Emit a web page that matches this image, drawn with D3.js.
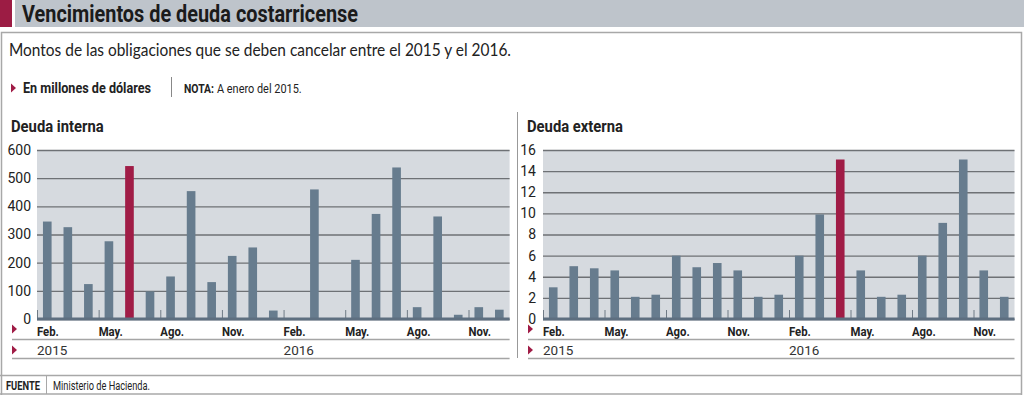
<!DOCTYPE html>
<html>
<head>
<meta charset="utf-8">
<style>
body { margin: 0; background: #fff; }
text { font-family: Roboto, sans-serif; fill: #222; }
.title { font-weight: bold; font-size: 23px; fill: #1b1b1b; }
.sub { font-family: Lato, "Open Sans", sans-serif; font-size: 17px; fill: #222; }
.bold { font-weight: bold; }
.ytick text { font-size: 14px; fill: #222; }
.ytick path { display: none; }
.ytick line { stroke: #6e7175; stroke-width: 1.3px; }
</style>
<title></title></head>
<body>
<script src="https://cdnjs.cloudflare.com/ajax/libs/d3/7.8.5/d3.min.js"></script>
<script>

// months from Feb 2015 to Dec 2016
var months = ["2015-02","2015-03","2015-04","2015-05","2015-06","2015-07","2015-08","2015-09","2015-10","2015-11","2015-12",
              "2016-01","2016-02","2016-03","2016-04","2016-05","2016-06","2016-07","2016-08","2016-09","2016-10","2016-11","2016-12"];

var monthTicks = ["2015-02","2015-05","2015-08","2015-11","2016-02","2016-05","2016-08","2016-11"];
var monthTickLabels = ["Feb.","May.","Ago.","Nov.","Feb.","May.","Ago.","Nov."];
var yearTicks = ["2015-02","2016-02"];
var yearLabels = ["2015","2016"];

// millones de dolares
var interna = [346, 326, 124, 276, 543, 98, 151, 454, 131, 224, 254,
               30, 0, 460, 0, 210, 373, 538, 42, 364, 15, 42, 33];
var externa = [3.0, 5.0, 4.8, 4.6, 2.1, 2.3, 6.0, 4.9, 5.3, 4.6, 2.1,
               2.3, 6.0, 9.9, 15.1, 4.6, 2.1, 2.3, 6.0, 9.1, 15.1, 4.6, 2.1];

var internaTicks = [0, 100, 200, 300, 400, 500, 600];
var externaTicks = [0, 2, 4, 6, 8, 10, 12, 14, 16];

var internaHighlight = "2015-06";
var externaHighlight = "2016-04";

var width = 1024,
    height = 395;

var barColor = "#677c8e",
    redColor = "#a01c46",
    lineGray = "#a8a8a8";

var svg = d3.select("body").append("svg")
    .attr("width", width)
    .attr("height", height);

// squeeze text horizontally, the original uses a condensed face
function condense(sel, f) {
  sel.each(function() {
    var len = this.getComputedTextLength();
    d3.select(this).attr("textLength", len * f).attr("lengthAdjust", "spacingAndGlyphs");
  });
  return sel;
}

// header
svg.append("rect").attr("x", 0).attr("y", 0).attr("width", 12).attr("height", 27).attr("fill", "#9c1c44");
svg.append("rect").attr("x", 15).attr("y", 0).attr("width", width - 15).attr("height", 27).attr("fill", "#bec4cb");
svg.append("text").attr("class", "title")
    .attr("x", 22).attr("y", 22)
    .attr("textLength", 336).attr("lengthAdjust", "spacingAndGlyphs")
    .text("Vencimientos de deuda costarricense");

// frame
svg.append("path")
    .attr("d", "M1.5,395V32.5H1021.5V395")
    .attr("fill", "none").attr("stroke", lineGray).attr("stroke-width", 1.5);

svg.append("text").attr("class", "sub")
    .attr("x", 9).attr("y", 56)
    .attr("textLength", 502).attr("lengthAdjust", "spacingAndGlyphs")
    .text("Montos de las obligaciones que se deben cancelar entre el 2015 y el 2016.");

function triangle(g, x, y) {
  g.append("path")
    .attr("d", "M" + x + "," + (y - 4.5) + "L" + (x + 5) + "," + y + "L" + x + "," + (y + 4.5) + "Z")
    .attr("fill", redColor);
}

triangle(svg, 11, 88);
svg.append("text").attr("class", "bold")
    .attr("x", 23).attr("y", 93).style("font-size", "14px")
    .attr("textLength", 128).attr("lengthAdjust", "spacingAndGlyphs")
    .text("En millones de dólares");
svg.append("line").attr("x1", 171.5).attr("x2", 171.5).attr("y1", 77).attr("y2", 97)
    .attr("stroke", "#888").attr("stroke-width", 1);
svg.append("text").attr("class", "bold")
    .attr("transform", "translate(184,93) scale(0.8,1)")
    .style("font-size", "13px")
    .text("NOTA:");
svg.append("text")
    .attr("transform", "translate(217,93) scale(0.84,1)")
    .style("font-size", "13px")
    .text("A enero del 2015.");

// separator between charts
svg.append("line").attr("x1", 517.5).attr("x2", 517.5).attr("y1", 112).attr("y2", 358)
    .attr("stroke", "#999").attr("stroke-width", 1);

// footer
svg.append("line").attr("x1", 0).attr("x2", 1022).attr("y1", 375.5).attr("y2", 375.5)
    .attr("stroke", lineGray).attr("stroke-width", 1.5);
svg.append("line").attr("x1", 0).attr("x2", 1022).attr("y1", 394).attr("y2", 394)
    .attr("stroke", lineGray).attr("stroke-width", 1.5);
svg.append("line").attr("x1", 46.5).attr("x2", 46.5).attr("y1", 376).attr("y2", 394)
    .attr("stroke", lineGray).attr("stroke-width", 1);
svg.append("text").attr("class", "bold").attr("x", 6).attr("y", 389.5).style("font-size", "12px")
    .attr("textLength", 34).attr("lengthAdjust", "spacingAndGlyphs")
    .text("FUENTE");
svg.append("text").attr("x", 53).attr("y", 389.5).style("font-size", "12px")
    .attr("textLength", 97).attr("lengthAdjust", "spacingAndGlyphs")
    .text("Ministerio de Hacienda.");

function drawChart(opts) {
  var g = svg.append("g");

  var slot = d3.scaleBand().domain(months).range([opts.x0, opts.x1]);
  var barW = slot.bandwidth() * 0.42;
  var y = d3.scaleLinear().domain([0, d3.max(opts.ticks)]).range([319, 150]);

  g.append("text").attr("class", "bold")
      .attr("x", opts.titleX).attr("y", 132).style("font-size", "17px")
      .text(opts.title)
      .call(condense, 0.87);

  g.append("rect")
      .attr("x", opts.x0).attr("y", y.range()[1])
      .attr("width", opts.x1 - opts.x0).attr("height", y.range()[0] - y.range()[1])
      .attr("fill", "#d6dadf");

  var yAxis = d3.axisLeft(y)
      .tickValues(opts.ticks)
      .tickSize(-(opts.x1 - opts.x0))
      .tickPadding(opts.pad);

  g.append("g")
      .attr("class", "ytick")
      .attr("transform", "translate(" + opts.x0 + ",0)")
      .call(yAxis);

  // quarter ticks
  g.selectAll(".qtick")
      .data(monthTicks)
      .enter().append("line")
      .attr("x1", function(d) { return slot(d) + 0.5; })
      .attr("x2", function(d) { return slot(d) + 0.5; })
      .attr("y1", y(0) - 9).attr("y2", y(0))
      .attr("stroke", "#6f7a85").attr("stroke-width", 1);

  g.selectAll(".bar")
      .data(opts.values)
      .enter().append("rect")
      .attr("x", function(d, i) { return slot(months[i]) + (slot.bandwidth() - barW) / 2; })
      .attr("y", function(d) { return y(d); })
      .attr("width", barW)
      .attr("height", function(d) { return y(0) - y(d); })
      .attr("fill", function(d, i) { return months[i] == opts.highlight ? redColor : barColor; });

  // base line
  g.append("line")
      .attr("x1", opts.x0).attr("x2", opts.x1)
      .attr("y1", y(0)).attr("y2", y(0))
      .attr("stroke", "#5e6f80").attr("stroke-width", 3);

  // month labels
  g.selectAll(".mlabel")
      .data(monthTicks)
      .enter().append("text")
      .attr("class", "bold")
      .attr("x", function(d) { return slot(d); })
      .attr("y", 336)
      .style("font-size", "13.5px")
      .text(function(d, i) { return monthTickLabels[i]; })
      .call(condense, 0.84);

  g.selectAll(".ylabel")
      .data(yearTicks)
      .enter().append("text")
      .attr("x", function(d) { return slot(d); })
      .attr("y", 355)
      .style("font-size", "13.5px")
      .style("fill", "#333")
      .text(function(d, i) { return yearLabels[i]; });

  triangle(g, opts.triX, 329);
  triangle(g, opts.triX, 350);

  [339.5, 358.5].forEach(function(ly) {
    g.append("line")
        .attr("x1", opts.triX).attr("x2", opts.x1)
        .attr("y1", ly).attr("y2", ly)
        .attr("stroke", "#a5a5a5").attr("stroke-width", 1.5);
  });
}

drawChart({ title: "Deuda interna", titleX: 11, x0: 37, x1: 509.6, pad: 6, triX: 12,
            values: interna, ticks: internaTicks, highlight: internaHighlight });
drawChart({ title: "Deuda externa", titleX: 527, x0: 543, x1: 1014.5, pad: 7, triX: 528,
            values: externa, ticks: externaTicks, highlight: externaHighlight });

</script>
</body>
</html>
